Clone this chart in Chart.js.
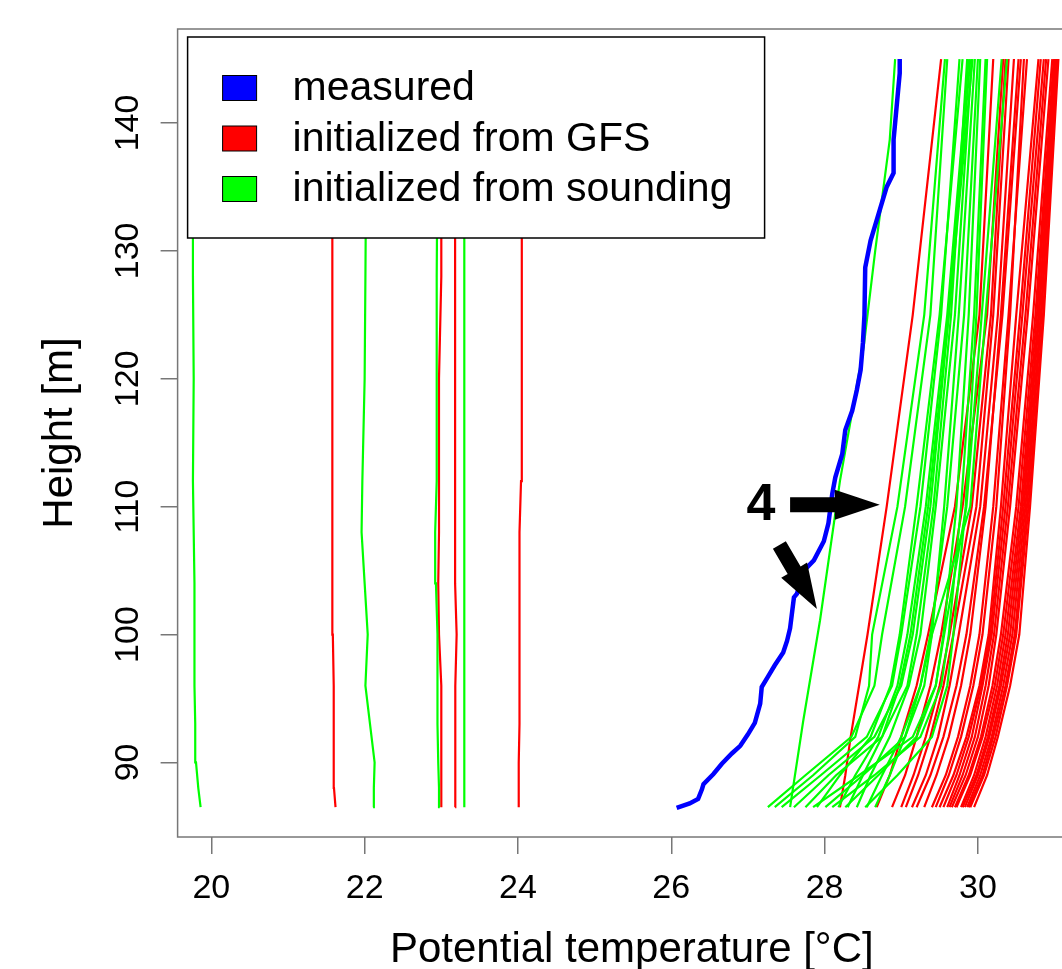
<!DOCTYPE html>
<html>
<head>
<meta charset="utf-8">
<script src="https://cdn.jsdelivr.net/npm/chart.js@4/dist/chart.umd.min.js"></script>
<style>
html, body { margin: 0; padding: 0; background: #fff; overflow: hidden; }
#wrap { width: 1062px; height: 969px; overflow: hidden; }
canvas { display: block; }
</style>
</head>
<body>
<div id="wrap"><canvas id="myChart" width="1100" height="990"></canvas></div>
<script>
// ticks
var xTicks = [20, 22, 24, 26, 28, 30];
var yTicks = [90, 100, 110, 120, 130, 140];

// legend
var legendLabels = ['measured', 'initialized from GFS', 'initialized from sounding'];
var legendColors = ['#0000ff', '#ff0000', '#00ff00'];

// measured profile (blue)
var measuredH = [86.45, 86.8, 87.15, 87.9, 88.3, 89.1, 89.9, 90.7, 91.3, 92.2, 93.1, 94.6, 95.9, 96.6, 97.6, 98.6, 99.5, 100.5, 102.9, 103.2, 105.0, 105.8, 107.3, 108.7, 111.0, 112.3, 114.1, 116.0, 117.5, 119.1, 120.7, 122.8, 125.0, 128.7, 130.8, 132.4, 135.0, 136.1, 138.7, 141.3, 143.9, 145.0];
var measuredT = [26.07, 26.24, 26.35, 26.40, 26.42, 26.55, 26.66, 26.79, 26.90, 27.00, 27.09, 27.16, 27.18, 27.25, 27.35, 27.46, 27.51, 27.55, 27.60, 27.64, 27.73, 27.86, 27.99, 28.05, 28.10, 28.14, 28.23, 28.27, 28.36, 28.42, 28.47, 28.50, 28.52, 28.53, 28.60, 28.68, 28.81, 28.90, 28.90, 28.94, 28.98, 28.98];

// runs far off to the left
var offH = [86.5, 88, 90, 93, 96, 100, 104, 108, 112, 120, 128, 137, 145];
var offGfs = [
  [21.62, 21.60, 21.60, 21.60, 21.59, 21.585, 21.575, 21.575, 21.575, 21.575, 21.58, 21.585, 21.585],
  [23.00, 23.00, 23.00, 23.00, 23.00, 22.97, 22.96, 22.97, 22.97, 22.97, 23.00, 23.00, 23.00],
  [23.18, 23.18, 23.18, 23.18, 23.19, 23.20, 23.18, 23.18, 23.18, 23.18, 23.18, 23.18, 23.18],
  [24.01, 24.01, 24.01, 24.02, 24.02, 24.02, 24.02, 24.02, 24.04, 24.05, 24.05, 24.05, 24.05]
];
var offSounding = [
  [19.86, 19.83, 19.80, 19.79, 19.78, 19.78, 19.78, 19.77, 19.76, 19.77, 19.76, 19.76, 19.76],
  [22.11, 22.12, 22.13, 22.07, 22.01, 22.04, 22.00, 21.96, 21.97, 22.00, 22.01, 22.02, 22.02],
  [22.98, 22.97, 22.96, 22.95, 22.95, 22.95, 22.93, 22.92, 22.94, 22.94, 22.94, 22.95, 22.95],
  [23.30, 23.30, 23.30, 23.30, 23.30, 23.30, 23.30, 23.30, 23.30, 23.30, 23.30, 23.30, 23.30]
];

// main bundle
var bundleH = [86.5, 89, 92, 96, 100, 110, 125, 145];
var gfsProfiles = [
  [28.20, 28.27, 28.34, 28.45, 28.56, 28.81, 29.15, 29.52],
  [28.68, 28.85, 29.00, 29.20, 29.35, 29.70, 30.02, 30.20],
  [28.88, 29.05, 29.20, 29.38, 29.52, 29.80, 30.12, 30.33],
  [29.00, 29.16, 29.32, 29.50, 29.63, 29.92, 30.17, 30.36],
  [29.06, 29.22, 29.38, 29.55, 29.68, 29.98, 30.20, 30.40],
  [29.14, 29.32, 29.48, 29.63, 29.75, 30.03, 30.26, 30.47],
  [29.20, 29.38, 29.55, 29.72, 29.85, 30.08, 30.32, 30.56],
  [29.30, 29.46, 29.62, 29.78, 29.90, 30.10, 30.30, 30.53],
  [29.40, 29.58, 29.74, 29.90, 30.02, 30.20, 30.40, 30.64],
  [29.45, 29.62, 29.78, 29.94, 30.06, 30.24, 30.42, 30.60],
  [29.50, 29.68, 29.85, 30.02, 30.14, 30.30, 30.50, 30.79],
  [29.55, 29.72, 29.88, 30.04, 30.16, 30.33, 30.55, 30.82],
  [29.60, 29.76, 29.92, 30.06, 30.18, 30.36, 30.58, 30.86],
  [29.63, 29.80, 29.96, 30.10, 30.21, 30.39, 30.62, 30.89],
  [29.66, 29.84, 30.00, 30.14, 30.24, 30.42, 30.65, 30.92],
  [29.70, 29.88, 30.04, 30.19, 30.30, 30.50, 30.72, 30.97],
  [29.72, 29.90, 30.06, 30.22, 30.33, 30.53, 30.75, 30.99],
  [29.78, 29.95, 30.10, 30.25, 30.36, 30.56, 30.77, 31.00],
  [29.80, 29.98, 30.13, 30.28, 30.39, 30.58, 30.79, 31.02],
  [29.83, 30.00, 30.15, 30.30, 30.42, 30.60, 30.80, 31.01],
  [29.86, 30.03, 30.18, 30.33, 30.45, 30.62, 30.82, 31.03],
  [29.88, 30.06, 30.20, 30.36, 30.48, 30.64, 30.83, 31.02],
  [29.90, 30.08, 30.23, 30.38, 30.50, 30.66, 30.85, 31.04],
  [29.95, 30.12, 30.26, 30.42, 30.54, 30.68, 30.86, 31.05]
];
var soundingProfiles = [
  [27.26, 27.75, 28.35, 28.65, 28.75, 29.05, 29.38, 29.60],
  [27.44, 27.95, 28.55, 28.88, 29.00, 29.25, 29.52, 29.76],
  [27.75, 28.15, 28.75, 29.08, 29.20, 29.42, 29.65, 29.86],
  [27.90, 28.20, 28.60, 28.86, 28.98, 29.20, 29.50, 29.80],
  [28.01, 28.50, 29.05, 29.30, 29.40, 29.56, 29.75, 29.96],
  [28.18, 28.40, 28.70, 28.95, 29.08, 29.32, 29.60, 29.88],
  [28.27, 28.70, 29.20, 29.45, 29.55, 29.72, 29.88, 30.03],
  [28.42, 28.60, 28.85, 29.10, 29.25, 29.45, 29.70, 29.92],
  [28.53, 28.95, 29.40, 29.60, 29.68, 29.84, 29.98, 30.12],
  [28.66, 28.85, 29.05, 29.25, 29.38, 29.60, 29.82, 30.00],
  [27.35, 27.85, 28.40, 28.58, 28.62, 28.95, 29.30, 29.57],
  [27.60, 28.05, 28.65, 29.00, 29.15, 29.38, 29.62, 29.90],
  [28.10, 28.65, 29.25, 29.52, 29.62, 29.78, 29.95, 30.10],
  [27.85, 28.45, 29.15, 29.45, 29.56, 29.85, 30.05, 30.31],
  [28.30, 28.50, 28.75, 28.98, 29.12, 29.35, 29.62, 29.93],
  [28.55, 28.75, 29.00, 29.25, 29.40, 29.90, 30.10, 30.38]
];
// the sounding run marked "4"
var run4H = [86.5, 93.2, 101.1, 112, 122.5, 130, 138.7, 145];
var run4T = [27.55, 27.72, 27.94, 28.20, 28.51, 28.66, 28.85, 28.92];

// annotation "4" and its arrows (data coordinates)
var label4 = { text: '4', x: 27.17, y: 110.1 };
var arrowTails = [[27.55, 110.15], [27.41, 107.0]];
var arrowTips = [[28.72, 110.15], [27.90, 102.0]];

var fontFam = '"Liberation Sans", Arial, sans-serif';

function series(ts, hs) {
  return ts.map(function (t, i) { return { x: t, y: hs[i] }; });
}

function lineSet(pts, color, width, order) {
  return {
    data: pts, showLine: true, borderColor: color, backgroundColor: color,
    borderWidth: width, pointRadius: 0, pointHoverRadius: 0, fill: false,
    tension: 0, order: order
  };
}

var datasets = [];
datasets.push(lineSet(series(measuredT, measuredH), legendColors[0], 4.5, 0));
soundingProfiles.forEach(function (p) { datasets.push(lineSet(series(p, bundleH), legendColors[2], 2.2, 1)); });
datasets.push(lineSet(series(run4T, run4H), legendColors[2], 2.2, 1));
offSounding.forEach(function (p) { datasets.push(lineSet(series(p, offH), legendColors[2], 2.2, 1)); });
gfsProfiles.forEach(function (p) { datasets.push(lineSet(series(p, bundleH), legendColors[1], 2.2, 2)); });
offGfs.forEach(function (p) { datasets.push(lineSet(series(p, offH), legendColors[1], 2.2, 2)); });

function drawArrow(ctx, x0, y0, x1, y1, shaft, headLen, headHalf) {
  var dx = x1 - x0, dy = y1 - y0, len = Math.hypot(dx, dy);
  var ux = dx / len, uy = dy / len, nx = -uy, ny = ux;
  var bx = x1 - ux * headLen, by = y1 - uy * headLen;
  ctx.beginPath();
  ctx.moveTo(x0 + nx * shaft / 2, y0 + ny * shaft / 2);
  ctx.lineTo(bx + nx * shaft / 2, by + ny * shaft / 2);
  ctx.lineTo(bx + nx * headHalf, by + ny * headHalf);
  ctx.lineTo(x1, y1);
  ctx.lineTo(bx - nx * headHalf, by - ny * headHalf);
  ctx.lineTo(bx - nx * shaft / 2, by - ny * shaft / 2);
  ctx.lineTo(x0 - nx * shaft / 2, y0 - ny * shaft / 2);
  ctx.closePath();
  ctx.fill();
}

var extras = {
  id: 'extras',
  afterDraw: function (chart) {
    var ctx = chart.ctx, a = chart.chartArea;
    var sx = chart.scales.x, sy = chart.scales.y;
    ctx.save();
    // plot frame
    ctx.strokeStyle = '#777';
    ctx.lineWidth = 1.5;
    ctx.strokeRect(a.left, a.top, a.right - a.left, a.bottom - a.top);

    // "4" with arrows
    ctx.fillStyle = '#000';
    ctx.font = 'bold 52px ' + fontFam;
    ctx.textAlign = 'center';
    ctx.textBaseline = 'middle';
    ctx.fillText(label4.text, sx.getPixelForValue(label4.x), sy.getPixelForValue(label4.y));
    for (var i = 0; i < arrowTails.length; i++) {
      drawArrow(ctx,
        sx.getPixelForValue(arrowTails[i][0]), sy.getPixelForValue(arrowTails[i][1]),
        sx.getPixelForValue(arrowTips[i][0]), sy.getPixelForValue(arrowTips[i][1]),
        15, 45, 15);
    }

    // legend box
    var lx = a.left + 10, ly = a.top + 8, lw = 577, lh = 201;
    ctx.fillStyle = '#fff';
    ctx.fillRect(lx, ly, lw, lh);
    ctx.strokeStyle = '#000';
    ctx.lineWidth = 1.5;
    ctx.strokeRect(lx, ly, lw, lh);
    ctx.font = '41px ' + fontFam;
    ctx.textAlign = 'left';
    ctx.textBaseline = 'middle';
    legendLabels.forEach(function (lab, k) {
      var cy = ly + 51 + k * 50.5;
      ctx.fillStyle = legendColors[k];
      ctx.fillRect(lx + 35, cy - 12.5, 34, 25);
      ctx.strokeStyle = '#000';
      ctx.lineWidth = 1;
      ctx.strokeRect(lx + 35, cy - 12.5, 34, 25);
      ctx.fillStyle = '#000';
      ctx.fillText(lab, lx + 105, cy + 1);
    });
    ctx.restore();
  }
};

var ctx = document.getElementById('myChart').getContext('2d');
var myChart = new Chart(ctx, {
  type: 'scatter',
  data: { datasets: datasets },
  options: {
    responsive: false,
    animation: false,
    devicePixelRatio: 1,
    layout: { padding: { top: 29, right: 14, bottom: 0, left: 0 } },
    plugins: { legend: { display: false }, tooltip: { enabled: false } },
    scales: {
      x: {
        type: 'linear', position: 'bottom', min: 19.56, max: 31.41,
        afterBuildTicks: function (s) { s.ticks = xTicks.map(function (v) { return { value: v }; }); },
        ticks: { color: '#000', padding: 14, maxRotation: 0, autoSkip: false,
          font: { family: fontFam, size: 34, lineHeight: 1.2 } },
        grid: { display: true, drawOnChartArea: false, drawTicks: true, tickLength: 17, color: '#777', lineWidth: 1.5 },
        border: { display: false },
        title: { display: true, text: 'Potential temperature [°C]', color: '#000',
          font: { family: fontFam, size: 42, lineHeight: 1.2 }, padding: { top: 2, bottom: 14.8 } }
      },
      y: {
        type: 'linear', position: 'left', min: 84.17, max: 147.35,
        afterBuildTicks: function (s) { s.ticks = yTicks.map(function (v) { return { value: v }; }); },
        ticks: { color: '#000', padding: 3.6, minRotation: 90, maxRotation: 90, crossAlign: 'center', autoSkip: false,
          font: { family: fontFam, size: 34, lineHeight: 1.2 } },
        grid: { display: true, drawOnChartArea: false, drawTicks: true, tickLength: 17, color: '#777', lineWidth: 1.5 },
        border: { display: false },
        title: { display: true, text: 'Height [m]', color: '#000',
          font: { family: fontFam, size: 42, lineHeight: 1.2 }, padding: { top: 35, bottom: 27.2 } }
      }
    }
  },
  plugins: [extras]
});
</script>
</body>
</html>
